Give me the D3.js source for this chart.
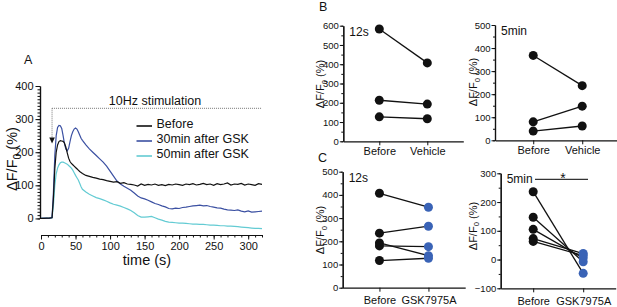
<!DOCTYPE html>
<html><head><meta charset="utf-8">
<script src="https://cdn.jsdelivr.net/npm/d3@7"></script>
<style>
body{margin:0;background:#fff}
svg{display:block;font-family:"Liberation Sans",Arial,Helvetica,sans-serif}
</style></head><body>
<svg id="c" width="617" height="307"></svg>
<script>
// ---------- Panel A data ----------
const timeA = [0,4,8,12,16,18,20,22,24,26,28,30,32,34,36,38,40,42,44,46,48,50,52,54,56,58,60,
 65,70,75,80,85,90,95,100,105,110,115,120,125,130,135,140,145,150,155,160,165,170,175,180,185,190,195,200,
 205,210,215,220,225,230,235,240,245,250,255,260,265,270,275,280,285,290,295,300,305,310,315,320];
const before = [0,0,1,1,2,60,150,200,222,232,235,234,233,228,215,198,182,172,166,162,158,154,150,146,142,139,136,
 130,127,124,122,119,117,114,112,110,111,106,108,104,103,101,98,104,100,103,101,104,100,102,99,103,101,104,102,
 100,104,102,105,101,103,106,102,104,100,105,102,104,107,101,104,103,106,101,104,102,100,105,103];
const gsk30 = [0,1,0,1,3,80,190,250,275,281,280,272,250,225,210,204,212,232,250,262,270,273,270,262,252,242,236,
 222,210,200,190,180,170,158,143,128,113,104,97,91,85,77,68,62,59,55,50,45,42,38,35,30,29,31,30,
 33,34,36,38,39,40,38,39,36,34,32,31,28,26,25,24,26,22,20,23,19,20,21,22];
const gsk50 = [0,0,1,0,2,40,100,135,152,162,168,170,170,168,166,164,160,156,152,146,138,130,123,116,106,96,88,
 80,73,68,63,60,56,52,47,43,40,37,33,29,24,17,9,4,4,5,6,2,-2,-5,-9,-11,-12,-13,-14,
 -14,-15,-16,-17,-17,-18,-18,-19,-20,-20,-21,-22,-22,-23,-23,-24,-25,-26,-27,-28,-29,-30,-30,-31];
const seriesNames = ["Before","30min after GSK","50min after GSK"];
const seriesColors = ["#111111","#3b50a2","#63cbd3"];
const yTicksA = [0,100,200,300,400];
const xTicksA = [0,50,100,150,200,250,300];

// ---------- Panels B & C data ----------
const groupsB = ["Before","Vehicle"];
const groupsC = ["Before","GSK7975A"];
const b12Before = [583,213,127];
const b12Vehicle = [407,193,117];
const b5Before = [368,80,40];
const b5Vehicle = [237,148,62];
const c12Before = [407,235,193,180,117];
const c12Gsk = [347,265,138,177,127];
const c5Before = [236,147,105,73,63];
const c5Gsk = [-48,-8,5,21,14];
const yTicksB12 = [0,100,200,300,400,500,600];
const yTicksB5 = [0,100,200,300,400,500];
const yTicksC12 = [0,100,200,300,400,500];
const yTicksC5 = [-100,0,100,200,300];

const svg = d3.select("#c");
const FONT = '"Liberation Sans",Arial,Helvetica,sans-serif';
const NARROW = '"Liberation Sans Narrow","Arial Narrow","Liberation Sans",Arial,sans-serif';

function yLabel(g, x, y, size){
  const t = g.append("text").attr("transform",`translate(${x},${y}) rotate(-90)`)
    .attr("text-anchor","middle").attr("font-size",size).attr("fill","#111");
  t.append("tspan").text("ΔF/F");
  t.append("tspan").text("0").attr("font-size",size*0.72).attr("dy",size*0.25);
  t.append("tspan").text(" (%)").attr("dy",-size*0.25);
}
function styleAxis(g, fs, fam){
  g.selectAll("path.domain").attr("stroke","#111").attr("stroke-width",1.2);
  g.selectAll(".tick line").attr("stroke","#111").attr("stroke-width",1);
  g.selectAll(".tick text").attr("font-size",fs).attr("fill","#111").attr("font-family",fam||FONT);
}

// ================= Panel A =================
const xA = d3.scaleLinear().domain([0,320]).range([41,262]);
const yA = d3.scaleLinear().domain([-50,400]).range([235,86]);
const yAaxis = d3.scaleLinear().domain([0,400]).range([yA(0), yA(400)]);
const gA = svg.append("g");

const yMinorA = d3.range(0,401,10);
gA.append("g").attr("transform","translate(40,0)")
  .call(d3.axisLeft(yAaxis).tickValues(yMinorA).tickSize(2.5).tickSizeOuter(0).tickFormat(""))
  .call(g=>{styleAxis(g,10);});
gA.append("g").attr("transform","translate(40,0)")
  .call(d3.axisLeft(yAaxis).tickValues(yTicksA).tickSize(4.5).tickSizeOuter(0).tickPadding(2))
  .call(g=>styleAxis(g,11));

const xMinorA = d3.range(0,321,10);
gA.append("g").attr("transform","translate(0,235)")
  .call(d3.axisBottom(xA).tickValues(xMinorA).tickSize(2.5).tickSizeOuter(0).tickFormat(""))
  .call(g=>styleAxis(g,10));
gA.append("g").attr("transform","translate(0,235)")
  .call(d3.axisBottom(xA).tickValues(xTicksA).tickSize(4.5).tickSizeOuter(0).tickPadding(3))
  .call(g=>styleAxis(g,11));

// traces
const lineA = d3.line().x((d,i)=>xA(timeA[i])).y(d=>yA(d));
[[gsk50,2],[gsk30,1],[before,0]].forEach(([s,idx])=>{
  gA.append("path").datum(s).attr("d",lineA).attr("fill","none")
    .attr("stroke",seriesColors[idx]).attr("stroke-width",1.2);
});

// stimulation annotation
const stimX = xA(16);
gA.append("path").attr("d",`M${stimX},108.3H${xA(320)}`)
  .attr("stroke","#777").attr("stroke-width",1).attr("stroke-dasharray","1,1").attr("fill","none");
gA.append("path").attr("d",`M${stimX},108.3V138`)
  .attr("stroke","#777").attr("stroke-width",1).attr("stroke-dasharray","1,1").attr("fill","none");
gA.append("path").attr("d",`M${stimX-2.8},137.5L${stimX+2.8},137.5L${stimX},143.5Z`).attr("fill","#111");
gA.append("text").attr("x",155).attr("y",104.5).attr("text-anchor","middle")
  .attr("font-size",12.5).attr("fill","#111").text("10Hz stimulation");

// legend
const legY = [126,141,156];
seriesNames.forEach((n,i)=>{
  gA.append("line").attr("x1",136.5).attr("x2",152).attr("y1",legY[i]).attr("y2",legY[i])
    .attr("stroke",seriesColors[i]).attr("stroke-width",1.6);
  gA.append("text").attr("x",156.5).attr("y",legY[i]+1.5).attr("font-size",12.5).attr("fill","#111").text(n);
});

yLabel(gA, 17, 159, 14.5);
gA.append("text").attr("x",147).attr("y",265).attr("text-anchor","middle").attr("font-size",14.5)
  .attr("fill","#111").text("time (s)");
gA.append("text").attr("x",24).attr("y",64).attr("font-size",12.5).attr("fill","#111").text("A");

// ================= Panels B, C =================
function pairPanel(o){
  const g = svg.append("g");
  const y = d3.scaleLinear().domain([o.ticks[0], o.ticks[o.ticks.length-1]]).range([o.y0,o.y1]);
  const x = d3.scalePoint().domain(o.groups).range([o.ax, o.ax + o.step*(1+2*o.pad)]).padding(o.pad);
  const minor = d3.range(o.ticks[0], o.ticks[o.ticks.length-1]+1, 50);
  g.append("g").attr("transform",`translate(${o.ax},0)`)
    .call(d3.axisLeft(y).tickValues(minor).tickSize(2).tickSizeOuter(0).tickFormat(""))
    .call(a=>styleAxis(a,9));
  g.append("g").attr("transform",`translate(${o.ax},0)`)
    .call(d3.axisLeft(y).tickValues(o.ticks).tickSize(3.5).tickSizeOuter(0).tickPadding(1))
    .call(a=>styleAxis(a,9.5,NARROW));
  g.append("g").attr("transform",`translate(0,${o.y0})`)
    .call(d3.axisBottom(x).tickSize(4).tickSizeOuter(0).tickPadding(o.xpad))
    .call(a=>styleAxis(a,11));
  const pairs = o.a.map((v,i)=>[v,o.b[i]]);
  g.selectAll("line.p").data(pairs).enter().append("line")
    .attr("x1",x(o.groups[0])).attr("x2",x(o.groups[1]))
    .attr("y1",d=>y(d[0])).attr("y2",d=>y(d[1]))
    .attr("stroke","#111").attr("stroke-width",1.3);
  g.selectAll("circle.a").data(o.a).enter().append("circle")
    .attr("cx",x(o.groups[0])).attr("cy",d=>y(d)).attr("r",4.5).attr("fill","#111");
  g.selectAll("circle.b").data(o.b).enter().append("circle")
    .attr("cx",x(o.groups[1])).attr("cy",d=>y(d)).attr("r",4.5).attr("fill",o.bColor);
  g.append("text").attr("x",o.ax+6).attr("y",o.y1+10).attr("font-size",12).attr("fill","#111").text(o.tag);
  yLabel(g, o.lx, o.ly, 11);
  return {g,x,y};
}

pairPanel({groups:groupsB, a:b12Before, b:b12Vehicle, ticks:yTicksB12, ax:343.3, y0:141.3, y1:25.7,
  step:48, pad:0.75, bColor:"#111", tag:"12s", lx:324, ly:84, xpad:2});
pairPanel({groups:groupsB, a:b5Before, b:b5Vehicle, ticks:yTicksB5, ax:495, y0:140.3, y1:25,
  step:49, pad:0.78, bColor:"#111", tag:"5min", lx:477, ly:82, xpad:2});
pairPanel({groups:groupsC, a:c12Before, b:c12Gsk, ticks:yTicksC12, ax:342.7, y0:287.7, y1:171.7,
  step:49, pad:0.75, bColor:"#3a63b6", tag:"12s", lx:324, ly:230, xpad:4.5});
const c5 = pairPanel({groups:groupsC, a:c5Before, b:c5Gsk, ticks:yTicksC5, ax:500.7, y0:288.3, y1:173.3,
  step:50, pad:0.65, bColor:"#3a63b6", tag:"5min", lx:476.5, ly:226, xpad:4.5});

// significance
c5.g.append("line").attr("x1",535).attr("x2",588).attr("y1",179.3).attr("y2",179.3)
  .attr("stroke","#333").attr("stroke-width",1.2);
c5.g.append("text").attr("x",563).attr("y",183).attr("text-anchor","middle").attr("font-size",14)
  .attr("fill","#111").text("*");

svg.append("text").attr("x",319).attr("y",10.5).attr("font-size",12.5).attr("fill","#111").text("B");
svg.append("text").attr("x",318).attr("y",162).attr("font-size",12.5).attr("fill","#111").text("C");
</script>
</body></html>
